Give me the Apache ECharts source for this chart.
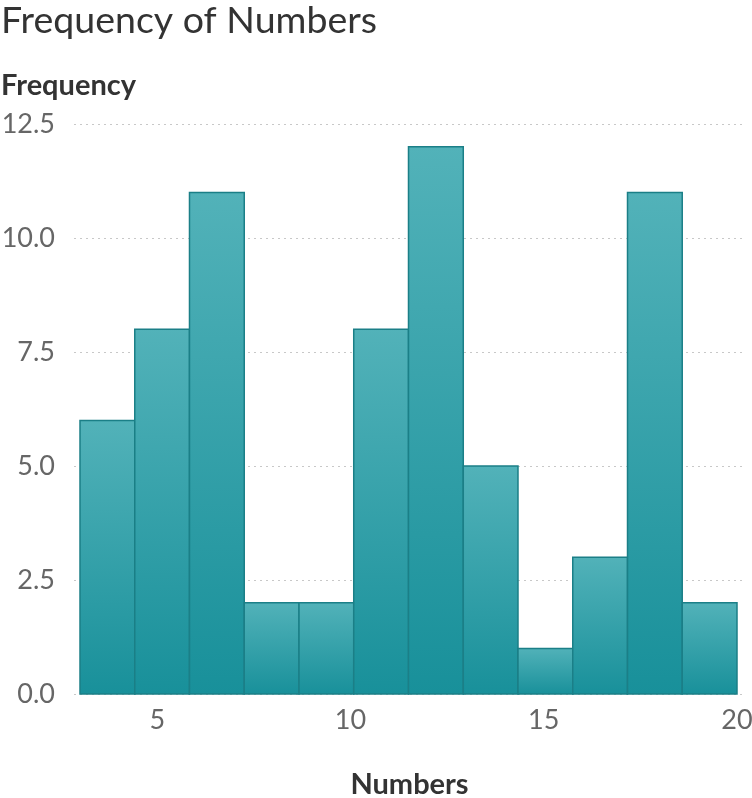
<!DOCTYPE html>
<html>
<head>
<meta charset="utf-8">
<script src="https://cdn.jsdelivr.net/npm/echarts@6/dist/echarts.min.js"></script>
<style>
  html, body { margin: 0; padding: 0; background: #fff; }
  #chart { width: 752px; height: 798px; }
</style>
</head>
<body>
<div id="chart"></div>
<script>
// Histogram bin edges (left/right) and the count in each bin
const binStarts = [3, 4.417, 5.833, 7.25, 8.667, 10.083, 11.5, 12.917, 14.333, 15.75, 17.167, 18.583];
const binEnds   = [4.417, 5.833, 7.25, 8.667, 10.083, 11.5, 12.917, 14.333, 15.75, 17.167, 18.583, 20];
const counts    = [6, 8, 11, 2, 2, 8, 12, 5, 1, 3, 11, 2];

const xTickLabels = [5, 10, 15, 20];
const yTicks = [0, 2.5, 5, 7.5, 10, 12.5];

const FONT = 'Lato';

const chart = echarts.init(document.getElementById('chart'), null, { renderer: 'canvas' });

const data = binStarts.map((s, i) => [s, binEnds[i], counts[i]]);

chart.setOption({
  animation: false,
  title: {
    text: 'Frequency of Numbers',
    left: -4,
    top: -3,
    textStyle: { fontFamily: FONT, fontSize: 37.5, fontWeight: 'normal', color: '#333' }
  },
  grid: { left: 74, right: 7, top: 124, bottom: 104, outerBoundsMode: 'none', containLabel: false },
  xAxis: {
    type: 'value',
    min: 2.8447,
    max: 20.207,
    name: 'Numbers',
    nameLocation: 'middle',
    nameGap: 76,
    nameTextStyle: { fontFamily: FONT, fontSize: 29, fontWeight: 'bold', color: '#333' },
    axisLine: { show: false },
    axisTick: { show: false },
    splitLine: { show: false },
    axisLabel: {
      customValues: xTickLabels,
      fontFamily: FONT, fontSize: 27, color: '#666', margin: 13,
      formatter: v => String(v)
    }
  },
  yAxis: {
    type: 'value',
    min: 0,
    max: 12.5,
    interval: 2.5,
    name: 'Frequency',
    nameLocation: 'end',
    nameGap: 24,
    nameTextStyle: {
      fontFamily: FONT, fontSize: 29, fontWeight: 'bold', color: '#333',
      align: 'left', padding: [0, 0, 0, -73]
    },
    axisLine: { show: false },
    axisTick: { show: false },
    axisLabel: {
      fontFamily: FONT, fontSize: 27, color: '#666', margin: 19,
      formatter: v => (yTicks.includes(v) ? v.toFixed(1) : '')
    },
    splitLine: { lineStyle: { color: '#c8c8c8', type: [2, 4], width: 1 } }
  },
  series: [{
    type: 'custom',
    data: data,
    encode: { x: [0, 1], y: 2 },
    renderItem: function (params, api) {
      const p0 = api.coord([api.value(0), api.value(2)]);
      const p1 = api.coord([api.value(1), 0]);
      return {
        type: 'rect',
        shape: { x: p0[0], y: p0[1], width: p1[0] - p0[0], height: p1[1] - p0[1] },
        style: {
          fill: new echarts.graphic.LinearGradient(0, 0, 0, 1, [
            { offset: 0, color: '#52b2b9' },
            { offset: 1, color: '#18909a' }
          ]),
          stroke: '#1b7f87',
          lineWidth: 1.5
        }
      };
    }
  }]
});
</script>
</body>
</html>
